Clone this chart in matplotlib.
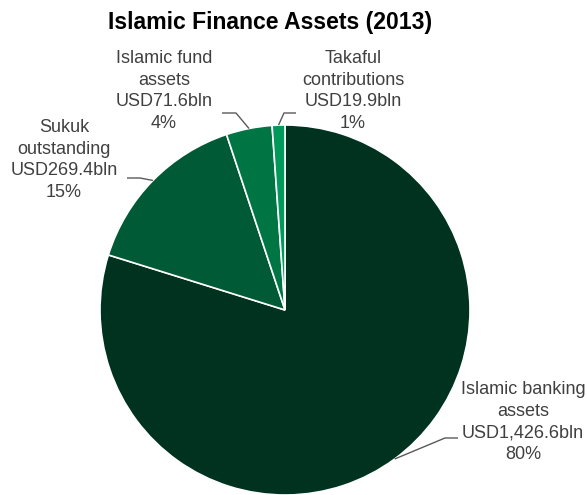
import numpy as np
import matplotlib
matplotlib.use("Agg")
import matplotlib.pyplot as plt

categories = ["Islamic banking\nassets", "Sukuk\noutstanding", "Islamic fund\nassets", "Takaful\ncontributions"]
values = [1426.6, 269.4, 71.6, 19.9]
value_labels = ["USD1,426.6bln", "USD269.4bln", "USD71.6bln", "USD19.9bln"]
pct_labels = ["80%", "15%", "4%", "1%"]
colors = ["#00331f", "#005a35", "#007544", "#00995a"]

W, H = 587, 495
fig = plt.figure(figsize=(W / 100, H / 100), dpi=100)
plt.rcParams['font.family'] = ['Liberation Sans', 'DejaVu Sans']

cx, cy, R = 285, 310, 185
ax = fig.add_axes([(cx - R) / W, (H - cy - R) / H, 2 * R / W, 2 * R / H])
wedges, _ = ax.pie(values, colors=colors, startangle=90, counterclock=False,
                   wedgeprops=dict(edgecolor="white", linewidth=1.2))
ax.set_xlim(-1, 1)
ax.set_ylim(-1, 1)
ax.set_aspect("equal")
ax.axis("off")

def px(x, y):
    return ((x - cx) / R, (cy - y) / R)

# layout: (elbow point px, horizontal end px, text center/top px)
layout = [
    ((445, 438), (458, 438), (523, 381)),
    ((140, 178), (127, 178), (64, 119)),
    ((236, 113), (222, 113), (164, 50)),
    ((284, 113), (296, 113), (353, 50)),
]
for w, cat, vl, pl, (elbow, hend, tpos) in zip(wedges, categories, value_labels, pct_labels, layout):
    ang = np.deg2rad((w.theta1 + w.theta2) / 2)
    a = (np.cos(ang), np.sin(ang))
    e = px(*elbow)
    h = px(*hend)
    ax.plot([a[0], e[0], h[0]], [a[1], e[1], h[1]], color="#595959", lw=1.0,
            clip_on=False, solid_capstyle="butt")
    t = px(*tpos)
    ax.text(t[0], t[1], f"{cat}\n{vl}\n{pl}", ha="center", va="top",
            fontsize=13, color="#404040", linespacing=1.36, clip_on=False)

fig.text(270 / W, 1 - 23 / H, "Islamic Finance Assets (2013)", ha="center", va="center",
         fontsize=16.6, fontweight="bold", color="#000000")

fig.savefig("out.png", dpi=100)
